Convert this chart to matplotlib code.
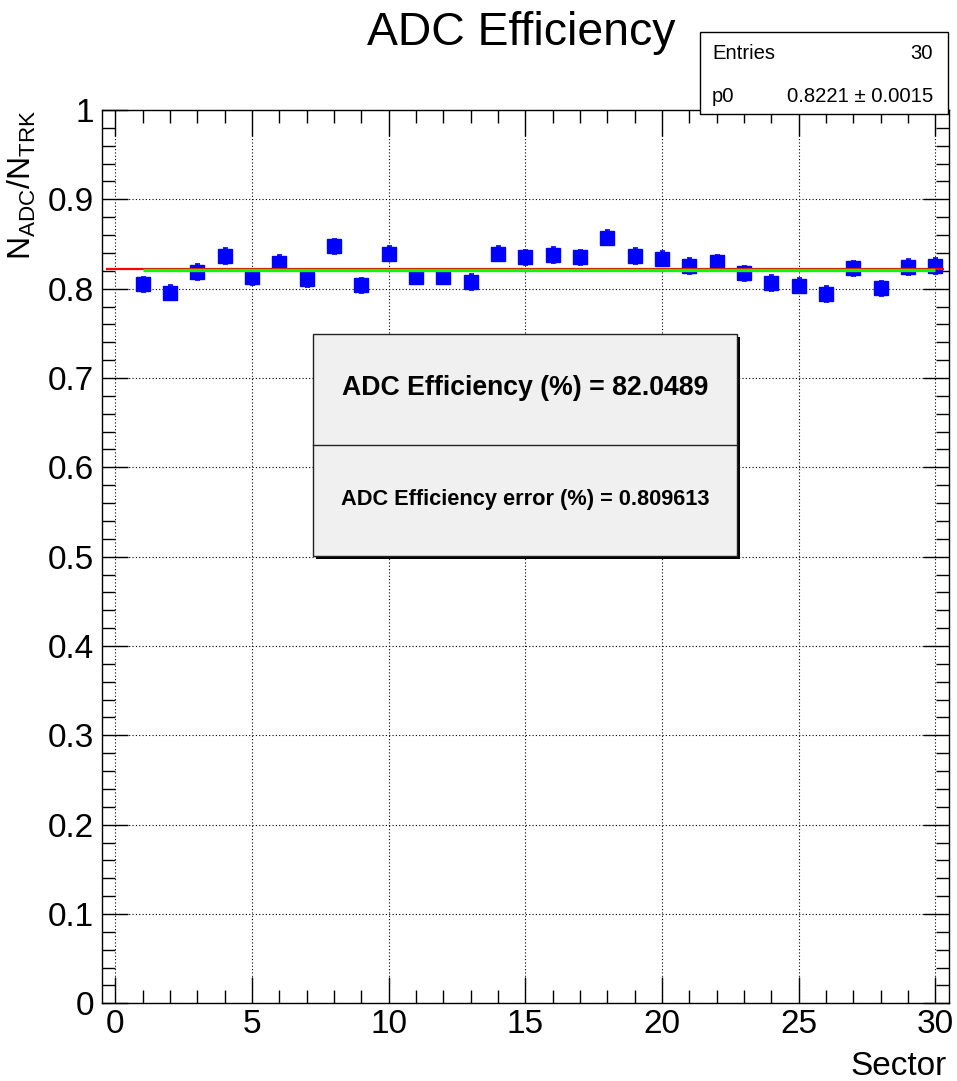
import matplotlib
matplotlib.use("Agg")
import matplotlib.pyplot as plt
from matplotlib.patches import Rectangle
from matplotlib.ticker import MultipleLocator
from matplotlib.lines import Line2D
import numpy as np

plt.rcParams['font.family'] = ['Liberation Sans', 'DejaVu Sans']
plt.rcParams['mathtext.fontset'] = 'custom'
plt.rcParams['mathtext.rm'] = 'Liberation Sans'
plt.rcParams['mathtext.it'] = 'Liberation Sans'

# ---- data ----
sectors = list(range(1, 31))
efficiency = [0.805, 0.7955, 0.8187, 0.8366, 0.8127, 0.829, 0.8105, 0.8474, 0.8038, 0.8392,
              0.8134, 0.8134, 0.8074, 0.839, 0.835, 0.8377, 0.835, 0.857, 0.8366, 0.8336,
              0.8254, 0.8295, 0.8172, 0.8063, 0.8033, 0.794, 0.8228, 0.8004, 0.8243, 0.8254]
eff_err = [0.0085] * 30
fit_p0 = 0.8221
fit_p0_err = 0.0015
mean_eff = 0.820489
mean_err_pct = 0.809613
title = "ADC Efficiency"
xlabel = "Sector"
ylabel = r"$\mathrm{N}_{\mathrm{ADC}}/\mathrm{N}_{\mathrm{TRK}}$"
ytick_labels = ['0', '0.1', '0.2', '0.3', '0.4', '0.5', '0.6', '0.7', '0.8', '0.9', '1']

W, H = 957, 1081
fig = plt.figure(figsize=(W / 100, H / 100), dpi=100)

def fx(px):
    return px / W

def fy(py):
    return 1 - py / H

ax_l, ax_r, ax_t, ax_b = 101.7, 949, 110, 1003.3
ax = fig.add_axes([fx(ax_l), fy(ax_b), fx(ax_r - ax_l), (ax_b - ax_t) / H])
ax.set_xlim(-0.5, 30.5)
ax.set_ylim(0, 1)

ax.errorbar(sectors, efficiency, yerr=eff_err, fmt='s', color='#0000ff', ms=10.3,
            mec='#0000ff', ecolor='#0000ff', elinewidth=1.2, capsize=1.8, capthick=1.2, zorder=3)
ax.hlines(fit_p0, -0.33, 30.3, color='#ff0000', lw=1.6, zorder=4)
ax.hlines(mean_eff, 1, 30, color='#00ff00', lw=2.4, zorder=5)

ax.xaxis.set_major_locator(MultipleLocator(5))
ax.xaxis.set_minor_locator(MultipleLocator(1))
ax.yaxis.set_minor_locator(MultipleLocator(0.02))
ax.set_yticks(np.round(np.arange(0, 1.01, 0.1), 1))
ax.set_yticklabels(ytick_labels)
ax.tick_params(which='both', direction='in', top=True, right=True, width=1.0, colors='black')
ax.tick_params(which='major', length=19, labelsize=24)
ax.tick_params(which='minor', length=9.5)
ax.tick_params(axis='y', which='major', pad=5.5)
ax.tick_params(axis='x', which='major', pad=4)
ax.grid(True, which='major', color='black', linestyle=(0, (1, 2)), linewidth=0.8)
for s in ax.spines.values():
    s.set_linewidth(1.0)

fig.text(fx(521), fy(45), title, ha='center', va='baseline', fontsize=33.4)
fig.text(fx(947), fy(1075), xlabel, ha='right', va='baseline', fontsize=24)
fig.text(fx(6), fy(110), ylabel, ha='left', va='top', rotation=90, fontsize=23)

# stats box
fig.patches.append(Rectangle((fx(700), fy(114)), fx(248), 82 / H, transform=fig.transFigure,
                             facecolor='white', edgecolor='black', lw=1.0, zorder=10))
fig.text(fx(712), fy(59), "Entries", ha='left', va='baseline', fontsize=14.6, zorder=11)
fig.text(fx(933), fy(59), f"{len(sectors)}", ha='right', va='baseline', fontsize=14.6, zorder=11)
fig.text(fx(712), fy(101.5), "p0", ha='left', va='baseline', fontsize=14.6, zorder=11)
fig.text(fx(933), fy(101.5), f"{fit_p0:.4f} \u00b1 {fit_p0_err:.4f}", ha='right', va='baseline',
         fontsize=14.6, zorder=11)

# text pave with shadow
bx0, bx1, by0, by1, bdiv = 313, 737, 334, 556, 445
fig.patches.append(Rectangle((fx(bx0 + 3), fy(by1 + 3)), fx(bx1 - bx0), (by1 - by0) / H,
                             transform=fig.transFigure, facecolor='black', edgecolor='black', lw=0, zorder=10))
fig.patches.append(Rectangle((fx(bx0), fy(by1)), fx(bx1 - bx0), (by1 - by0) / H,
                             transform=fig.transFigure, facecolor='#f0f0f0', edgecolor='#222222', lw=1.0, zorder=11))
fig.lines.append(Line2D([fx(bx0), fx(bx1)], [fy(bdiv), fy(bdiv)], transform=fig.transFigure,
                        color='#222222', lw=1.0, zorder=12))
fig.text(fx((bx0 + bx1) / 2), fy(388), f"ADC Efficiency (%) = {mean_eff * 100:.4f}", ha='center',
         va='center', fontsize=19.2, fontweight='bold', zorder=13)
fig.text(fx((bx0 + bx1) / 2), fy(500), f"ADC Efficiency error (%) = {mean_err_pct}", ha='center',
         va='center', fontsize=15.7, fontweight='bold', zorder=13)

fig.savefig("out.png", dpi=100)
